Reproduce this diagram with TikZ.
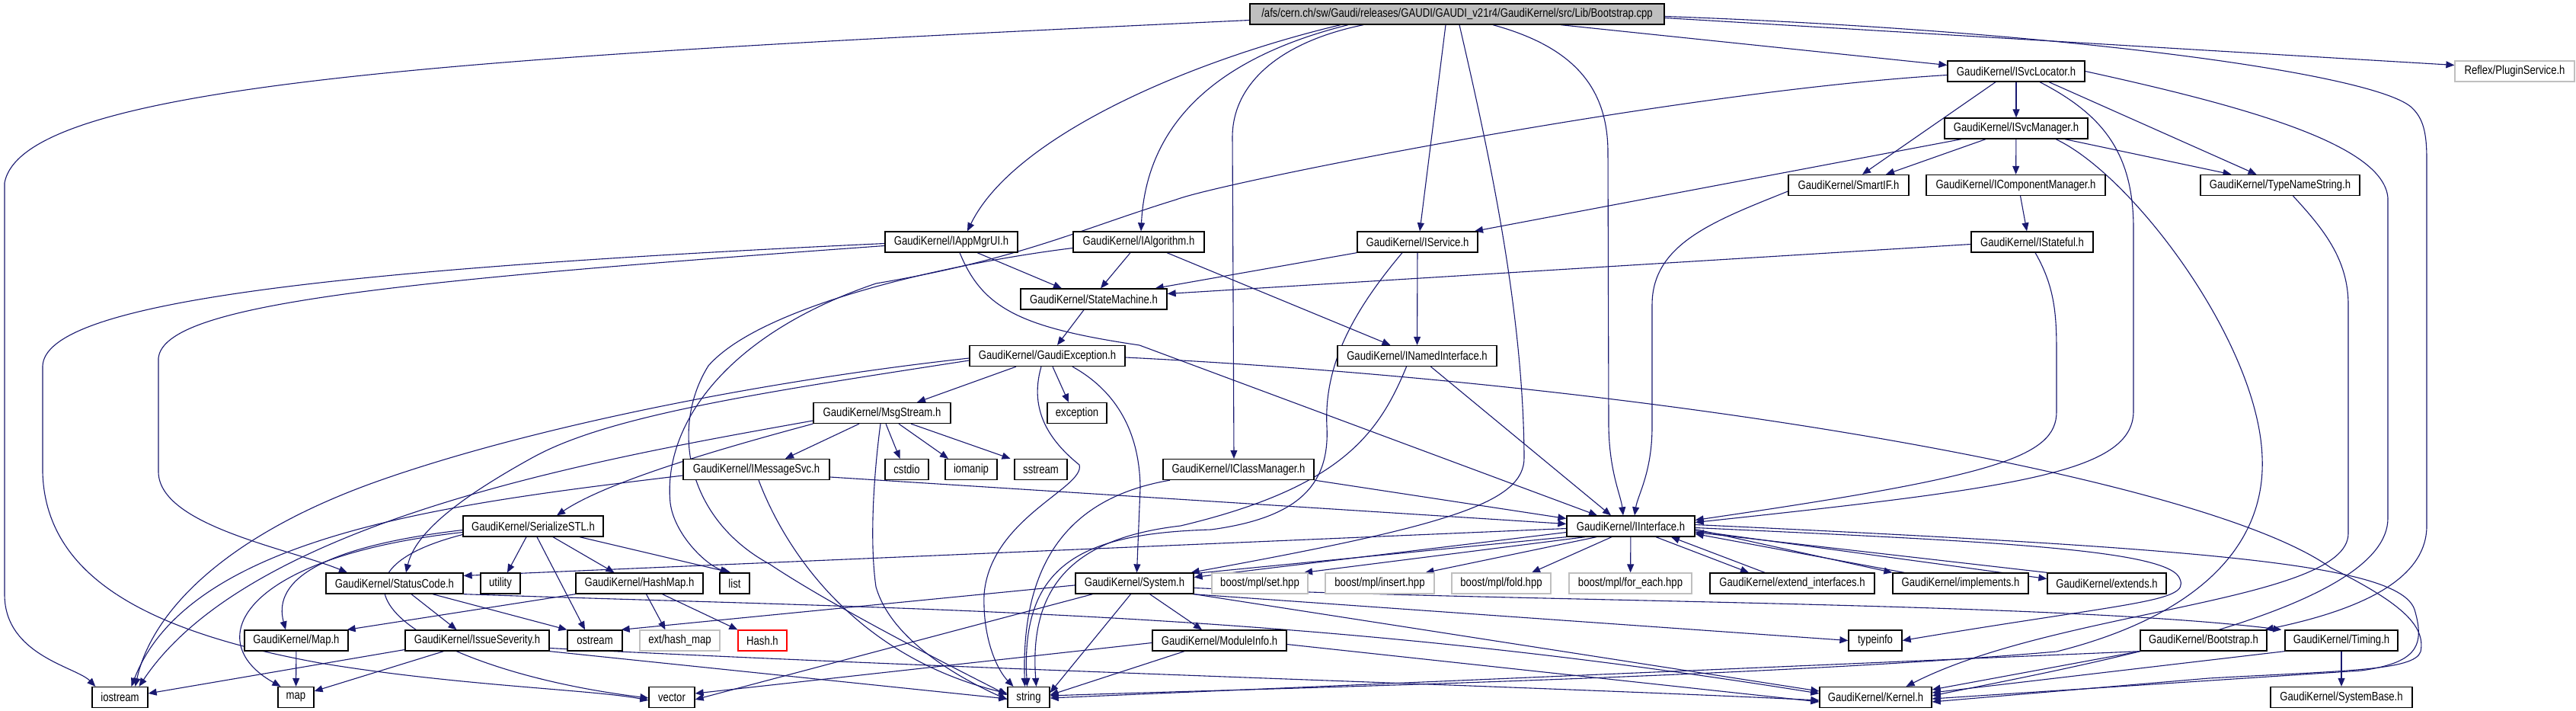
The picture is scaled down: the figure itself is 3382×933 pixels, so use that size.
\documentclass[tikz,border=0pt]{standalone}
\usepackage{fontspec}
\setmainfont{Liberation Sans}[FakeStretch=0.82]
\usetikzlibrary{arrows.meta,positioning,backgrounds}

\definecolor{edgeblue}{HTML}{191970}
\definecolor{boxgray}{HTML}{BFBFBF}

\tikzset{
  hfile/.style={rectangle,draw=black,line width=1.3pt,fill=white,minimum height=27,inner sep=0pt,font=\fontsize{16}{19}\selectfont},
  extfile/.style={hfile,draw=boxgray},
  badfile/.style={hfile,draw=red},
  rootfile/.style={hfile,fill=boxgray},
  dep/.style={draw=edgeblue,line width=1.1pt,-{Triangle[length=11pt,width=9pt]}}
}

\begin{document}
\begin{tikzpicture}[x=1pt,y=-1pt]
\useasboundingbox (0,0) rectangle (3382,933);

% the source file
\node[rootfile,minimum width=544] (cpp) at (1913,18.5) {/afs/cern.ch/sw/Gaudi/releases/GAUDI/GAUDI\_v21r4/GaudiKernel/src/Lib/Bootstrap.cpp};

% service headers
\node[hfile,minimum width=180] (svcloc) at (2647,93.5) {GaudiKernel/ISvcLocator.h};
\node[extfile,minimum width=157] (plugin) at (3301.5,93.5) {Reflex/PluginService.h};
\node[hfile,minimum width=188] (svcmgr) at (2647,168.5) {GaudiKernel/ISvcManager.h};
\node[hfile,minimum width=158] (smartif) at (2427,243) {GaudiKernel/SmartIF.h};
\node[hfile,minimum width=235] (compmgr) at (2646.5,243) {GaudiKernel/IComponentManager.h};
\node[hfile,minimum width=209] (typename) at (2993.5,243) {GaudiKernel/TypeNameString.h};
\node[hfile,minimum width=174] (appmgr) at (1249,317.5) {GaudiKernel/IAppMgrUI.h};
\node[hfile,minimum width=172] (ialg) at (1495,317.5) {GaudiKernel/IAlgorithm.h};
\node[hfile,minimum width=158] (isvc) at (1861,317.5) {GaudiKernel/IService.h};
\node[hfile,minimum width=160] (istateful) at (2668,317.5) {GaudiKernel/IStateful.h};
\node[hfile,minimum width=192] (statemach) at (1436,392.5) {GaudiKernel/StateMachine.h};
\node[hfile,minimum width=204] (gexc) at (1375,467) {GaudiKernel/GaudiException.h};
\node[hfile,minimum width=209] (namedif) at (1860.5,467) {GaudiKernel/INamedInterface.h};

% message stream and friends
\node[hfile,minimum width=180] (msgstream) at (1158,542) {GaudiKernel/MsgStream.h};
\node[hfile,minimum width=78] (exception) at (1414,542) {exception};
\node[hfile,minimum width=192] (imsgsvc) at (993,616) {GaudiKernel/IMessageSvc.h};
\node[hfile,minimum width=57] (cstdio) at (1190.5,616) {cstdio};
\node[hfile,minimum width=68] (iomanip) at (1275,616) {iomanip};
\node[hfile,minimum width=69] (sstream) at (1366.5,616) {sstream};
\node[hfile,minimum width=198] (iclassmgr) at (1626,616) {GaudiKernel/IClassManager.h};
\node[hfile,minimum width=184] (serial) at (700,690.5) {GaudiKernel/SerializeSTL.h};
\node[hfile,minimum width=168] (iinterface) at (2141,690.5) {GaudiKernel/IInterface.h};

% row of small headers
\node[hfile,minimum width=180] (statuscode) at (518,765.5) {GaudiKernel/StatusCode.h};
\node[hfile,minimum width=52] (utility) at (657,765.5) {utility};
\node[hfile,minimum width=167] (hashmap) at (839.5,765.5) {GaudiKernel/HashMap.h};
\node[hfile,minimum width=39] (list) at (964.5,765.5) {list};
\node[hfile,minimum width=155] (system) at (1489.5,765.5) {GaudiKernel/System.h};
\node[extfile,minimum width=126] (mplset) at (1654,765.5) {boost/mpl/set.hpp};
\node[extfile,minimum width=143] (mplinsert) at (1811.5,765.5) {boost/mpl/insert.hpp};
\node[extfile,minimum width=130] (mplfold) at (1971,765.5) {boost/mpl/fold.hpp};
\node[extfile,minimum width=161] (mplforeach) at (2140.5,765.5) {boost/mpl/for\_each.hpp};
\node[hfile,minimum width=216] (extif) at (2353,765.5) {GaudiKernel/extend\_interfaces.h};
\node[hfile,minimum width=178] (implements) at (2574,765.5) {GaudiKernel/implements.h};
\node[hfile,minimum width=156] (extends) at (2766,765.5) {GaudiKernel/extends.h};

\node[hfile,minimum width=136] (mapk) at (389,840.5) {GaudiKernel/Map.h};
\node[hfile,minimum width=189] (issue) at (626.5,840.5) {GaudiKernel/IssueSeverity.h};
\node[hfile,minimum width=72] (ostream) at (781,840.5) {ostream};
\node[extfile,minimum width=105] (exthash) at (892.5,840.5) {ext/hash\_map};
\node[badfile,minimum width=64] (hash) at (1001,840.5) {Hash.h};
\node[hfile,minimum width=176] (modinfo) at (1601,840.5) {GaudiKernel/ModuleInfo.h};
\node[hfile,minimum width=70] (typeinfo) at (2462,840.5) {typeinfo};
\node[hfile,minimum width=166] (bootstrap) at (2893,840.5) {GaudiKernel/Bootstrap.h};
\node[hfile,minimum width=148] (timing) at (3074,840.5) {GaudiKernel/Timing.h};

% bottom row
\node[hfile,minimum width=73] (iostream) at (157.5,915) {iostream};
\node[hfile,minimum width=47] (map) at (388.5,915) {map};
\node[hfile,minimum width=60] (vector) at (882,915) {vector};
\node[hfile,minimum width=55] (string) at (1350.5,915) {string};
\node[hfile,minimum width=147] (kernel) at (2462.5,915) {GaudiKernel/Kernel.h};
\node[hfile,minimum width=186] (sysbase) at (3074,915) {GaudiKernel/SystemBase.h};

\begin{scope}[on background layer]
\fill[white] (0,0) rectangle (3382,933);

% Bootstrap.cpp
\draw[dep] ([yshift=-8pt]cpp.west) .. controls (600,75) and (30,110) .. (6,240) -- (6,780) .. controls (6,860) and (100,875) .. ([xshift=5pt]iostream.north west);
\draw[dep] ([xshift=-153pt]cpp.south) .. controls (1560,80) and (1330,180) .. ([xshift=21pt]appmgr.north);
\draw[dep] ([xshift=-143pt]cpp.south) .. controls (1600,75) and (1505,160) .. ([xshift=3pt]ialg.north);
\draw[dep] ([xshift=-123pt]cpp.south) .. controls (1680,55) and (1618,110) .. (1618,180) -- ([xshift=-6pt]iclassmgr.north);
\draw[dep] ([xshift=-15pt]cpp.south) -- ([xshift=3pt]isvc.north);
\draw[dep] ([xshift=3pt]cpp.south) .. controls (1950,180) and (2000,400) .. (2001,600) .. controls (2002,660) and (1900,690) .. ([xshift=-4pt]system.north east);
\draw[dep] ([xshift=47pt]cpp.south) .. controls (2060,60) and (2111,110) .. (2111,200) -- (2112,560) .. controls (2113,620) and (2128,650) .. ([xshift=-10pt]iinterface.north);
\draw[dep] ([xshift=136pt]cpp.south) -- ([yshift=8pt]svcloc.west);
\draw[dep] ([yshift=-5pt]cpp.east) -- ([yshift=8pt]plugin.west);
\draw[dep] ([yshift=-3pt]cpp.east) .. controls (2700,40) and (3110,95) .. (3165,140) .. controls (3182,155) and (3186,175) .. (3186,210) -- (3186,690) .. controls (3186,760) and (3100,800) .. ([xshift=-3pt]bootstrap.north east);

% ISvcLocator.h
\draw[dep] (svcloc) -- (svcmgr);
\draw[dep] ([xshift=-27pt]svcloc.south) -- ([xshift=18pt]smartif.north);
\draw[dep] ([xshift=43pt]svcloc.south) -- ([xshift=-31pt]typename.north);
\draw[dep] ([xshift=31pt]svcloc.south) .. controls (2760,150) and (2801,200) .. (2801,300) -- (2801,540) .. controls (2800,620) and (2650,640) .. ([yshift=5pt]iinterface.east);
\draw[dep] ([yshift=-5pt]svcloc.west) .. controls (2200,120) and (1600,240) .. (1544,262) .. controls (1420,300) and (1340,340) .. (1150,372) .. controls (950,440) and (870,560) .. (880,660) .. controls (885,700) and (925,740) .. ([xshift=-8pt]list.north);
\draw[dep] (svcloc.east) .. controls (2950,140) and (3130,190) .. (3135,260) -- (3135,680) .. controls (3135,800) and (2750,870) .. ([yshift=2pt]kernel.east);

% ISvcManager.h
\draw[dep] ([xshift=-40pt]svcmgr.south) -- ([xshift=49pt]smartif.north);
\draw[dep] (svcmgr) -- (compmgr);
\draw[dep] ([xshift=64pt]svcmgr.south) -- ([xshift=-64pt]typename.north);
\draw[dep] ([xshift=-72pt]svcmgr.south) -- ([xshift=75pt]isvc.north);
\draw[dep] ([xshift=52pt]svcmgr.south) .. controls (2800,230) and (2965,450) .. (2970,600) .. controls (2975,720) and (2880,810) .. (2700,855) .. controls (2300,890) and (1600,905) .. ([yshift=2pt]string.east);

% SmartIF.h, IComponentManager.h, TypeNameString.h, IStateful.h
\draw[dep] ([yshift=-8pt]smartif.west) .. controls (2250,290) and (2169,320) .. (2169,400) -- (2169,560) .. controls (2169,620) and (2150,650) .. ([xshift=5pt]iinterface.north);
\draw[dep] ([xshift=6pt]compmgr.south) -- ([xshift=-7pt]istateful.north);
\draw[dep] ([xshift=17pt]typename.south) .. controls (3050,300) and (3083,340) .. (3083,400) -- (3083,700) .. controls (3083,790) and (2700,800) .. ([xshift=40pt]kernel.north);
\draw[dep] ([yshift=-3pt]istateful.west) -- ([yshift=7pt]statemach.east);
\draw[dep] ([xshift=4pt]istateful.south) .. controls (2700,380) and (2700,420) .. (2700,470) -- (2700,540) .. controls (2700,600) and (2620,625) .. ([yshift=8pt]iinterface.east);

% IAppMgrUI.h
\draw[dep] ([xshift=34pt]appmgr.south) -- ([xshift=-42pt]statemach.north);
\draw[dep] ([xshift=11pt]appmgr.south) .. controls (1290,405) and (1340,430) .. (1496,453) -- ([xshift=-44pt]iinterface.north);
\draw[dep] ([yshift=-5pt]appmgr.west) .. controls (500,370) and (215,400) .. (208,470) -- (208,620) .. controls (210,690) and (380,720) .. ([xshift=-62pt]statuscode.north);
\draw[dep] ([yshift=-2pt]appmgr.west) .. controls (400,355) and (60,400) .. (56,480) -- (56,620) .. controls (60,760) and (200,830) .. (420,870) .. controls (600,900) and (780,905) .. ([yshift=-4pt]vector.west);

% IAlgorithm.h, IService.h
\draw[dep] ([xshift=-11pt]ialg.south) -- ([xshift=9pt]statemach.north);
\draw[dep] ([xshift=37pt]ialg.south) -- ([xshift=-35pt]namedif.north);
\draw[dep] ([yshift=-8pt]ialg.west) .. controls (1250,345) and (1000,400) .. (930,480) .. controls (880,560) and (900,680) .. (1010,740) .. controls (1100,800) and (1260,880) .. ([yshift=3pt]string.west);
\draw[dep] (isvc.south west) -- ([xshift=-16pt]statemach.north east);
\draw[dep] (isvc) -- (namedif);
\draw[dep] ([xshift=-20pt]isvc.south) .. controls (1775,410) and (1738,480) .. (1742,560) .. controls (1746,640) and (1700,680) .. (1590,695) .. controls (1420,700) and (1340,740) .. ([xshift=-2pt]string.north);

% StateMachine.h, GaudiException.h
\draw[dep] ([xshift=-13pt]statemach.south) -- ([xshift=13pt]gexc.north);
\draw[dep] ([xshift=-41pt]gexc.south) -- ([xshift=46pt]msgstream.north);
\draw[dep] ([xshift=7pt]gexc.south) -- ([xshift=-11pt]exception.north);
\draw[dep] ([xshift=33pt]gexc.south) .. controls (1460,510) and (1496,560) .. (1497,640) -- ([xshift=3pt]system.north);
\draw[dep] ([xshift=-8pt]gexc.south) .. controls (1350,540) and (1380,580) .. (1417,610) .. controls (1425,640) and (1300,680) .. (1292,780) .. controls (1290,840) and (1310,880) .. ([xshift=-20pt]string.north);
\draw[dep] ([yshift=-3pt]gexc.west) .. controls (1000,500) and (700,560) .. (500,630) .. controls (300,700) and (200,800) .. ([xshift=20pt]iostream.north);
\draw[dep] ([yshift=-6pt]gexc.west) .. controls (1000,515) and (800,545) .. (700,600) .. controls (600,655) and (545,700) .. ([xshift=15pt]statuscode.north);
\draw[dep] ([yshift=-2pt]gexc.east) .. controls (2200,505) and (2900,630) .. (3060,745) .. controls (3150,790) and (3185,820) .. (3178,855) .. controls (3170,880) and (3080,880) .. (2900,890) -- ([yshift=-6pt]kernel.east);

% MsgStream.h
\draw[dep] ([xshift=-30pt]msgstream.south) -- ([xshift=38pt]imsgsvc.north);
\draw[dep] ([xshift=5pt]msgstream.south) -- ([xshift=-9pt]cstdio.north);
\draw[dep] ([xshift=22pt]msgstream.south) -- ([xshift=-30pt]iomanip.north);
\draw[dep] ([xshift=38pt]msgstream.south) -- ([xshift=-40pt]sstream.north);
\draw[dep] ([xshift=-2pt]msgstream.south) .. controls (1150,600) and (1140,700) .. (1150,770) .. controls (1170,840) and (1260,890) .. ([yshift=-3pt]string.west);
\draw[dep] (msgstream.south west) .. controls (960,585) and (800,630) .. ([xshift=31pt]serial.north);
\draw[dep] ([yshift=-10pt]msgstream.west) .. controls (800,600) and (330,680) .. ([xshift=25pt]iostream.north);

% IMessageSvc.h, IClassManager.h, INamedInterface.h
\draw[dep] ([yshift=-10pt]imsgsvc.east) -- ([yshift=3pt]iinterface.west);
\draw[dep] ([xshift=3pt]imsgsvc.south) .. controls (1030,720) and (1120,860) .. ([yshift=5pt]string.west);
\draw[dep] ([yshift=-8pt]imsgsvc.west) .. controls (600,660) and (250,700) .. ([xshift=15pt]iostream.north);
\draw[dep] (iclassmgr.south east) -- ([yshift=10pt]iinterface.west);
\draw[dep] ([xshift=-90pt]iclassmgr.south) .. controls (1420,650) and (1340,720) .. ([xshift=-5pt]string.north);
\draw[dep] ([xshift=18pt]namedif.south) -- ([xshift=-26pt]iinterface.north);
\draw[dep] ([xshift=-14pt]namedif.south) .. controls (1810,570) and (1760,640) .. (1550,690) .. controls (1420,705) and (1350,760) .. ([xshift=10pt]string.north);

% SerializeSTL.h
\draw[dep] ([xshift=-9pt]serial.south) -- ([xshift=9pt]utility.north);
\draw[dep] ([xshift=61pt]serial.south) -- ([xshift=-5pt]list.north);
\draw[dep] ([xshift=26pt]serial.south) -- ([xshift=-33pt]hashmap.north);
\draw[dep] ([xshift=5pt]serial.south) -- ([xshift=-13pt]ostream.north);
\draw[dep] ([yshift=-5pt]serial.west) .. controls (400,720) and (360,770) .. ([xshift=-14pt]mapk.north);
\draw[dep] ([yshift=-8pt]serial.west) .. controls (320,730) and (260,840) .. ([xshift=-20pt]map.north);
\draw[dep] ([yshift=-11pt]serial.west) .. controls (380,760) and (560,880) .. ([yshift=-1pt]vector.west);

% IInterface.h
\draw[dep] ([yshift=-8pt]iinterface.west) -- ([yshift=8pt]system.east);
\draw[dep] ([xshift=-60pt]iinterface.south) -- ([xshift=58pt]mplset.north);
\draw[dep] ([xshift=-45pt]iinterface.south) -- ([xshift=60pt]mplinsert.north);
\draw[dep] ([xshift=-25pt]iinterface.south) -- ([xshift=40pt]mplfold.north);
\draw[dep] (iinterface) -- (mplforeach);
\draw[dep] ([xshift=33pt]iinterface.south) -- ([xshift=-57pt]extif.north);
\draw[dep] ([xshift=-36pt]extif.north) -- ([xshift=53pt]iinterface.south);
\draw[dep] ([yshift=-4pt]iinterface.east) -- (implements.north west);
\draw[dep] ([xshift=-74pt]implements.north) -- ([yshift=-10pt]iinterface.east);
\draw[dep] ([yshift=-6pt]iinterface.east) -- ([yshift=6pt]extends.west);
\draw[dep] (extends.north west) -- ([yshift=-8pt]iinterface.east);
\draw[dep] ([yshift=-3pt]iinterface.west) -- ([yshift=10pt]statuscode.east);
\draw[dep] (iinterface.south west) -- ([xshift=-2pt]ostream.north east);
\draw[dep] ([yshift=-2pt]iinterface.east) .. controls (2600,710) and (2850,720) .. (2862,760) .. controls (2875,790) and (2800,790) .. (typeinfo.east);
\draw[dep] ([yshift=2pt]iinterface.east) .. controls (2900,720) and (3150,740) .. (3170,800) .. controls (3185,850) and (3170,870) .. (3100,880) -- ([yshift=-2pt]kernel.east);

% StatusCode.h, HashMap.h, Map.h, IssueSeverity.h
\draw[dep] ([xshift=22pt]statuscode.south) -- ([xshift=-27pt]issue.north);
\draw[dep] ([xshift=50pt]statuscode.south) -- (ostream.north west);
\draw[dep] (statuscode.south east) .. controls (1200,800) and (1700,800) .. ([yshift=5pt]kernel.west);
\draw[dep] (hashmap.south west) -- ([xshift=-2pt]mapk.north east);
\draw[dep] ([xshift=9pt]hashmap.south) -- ([xshift=-19pt]exthash.north);
\draw[dep] ([xshift=30pt]hashmap.south) -- (hash.north west);
\draw[dep] (mapk) -- (map);
\draw[dep] ([yshift=-12pt]issue.west) -- ([yshift=5pt]iostream.east);
\draw[dep] ([xshift=-44pt]issue.south) -- ([yshift=8pt]map.east);
\draw[dep] (issue.south east) -- ([yshift=-2pt]string.west);
\draw[dep] ([yshift=-10pt]issue.east) .. controls (1300,880) and (2000,900) .. ([yshift=-4pt]kernel.west);

% System.h, ModuleInfo.h, Bootstrap.h, Timing.h
\draw[dep] (system.south east) -- ([yshift=8pt]kernel.west);
\draw[dep] ([yshift=-6pt]system.east) .. controls (2000,790) and (2700,790) .. ([xshift=-4pt]timing.north west);
\draw[dep] ([xshift=20pt]system.south) -- ([xshift=-23pt]modinfo.north);
\draw[dep] ([xshift=-5pt]system.south) -- ([yshift=6pt]string.east);
\draw[dep] ([xshift=-55pt]system.south) -- ([yshift=-3pt]vector.east);
\draw[dep] ([xshift=-2pt]system.south east) -- (typeinfo.west);
\draw[dep] ([yshift=-5pt]modinfo.east) -- ([yshift=-6pt]kernel.west);
\draw[dep] ([xshift=-46pt]modinfo.south) -- ([yshift=3pt]string.east);
\draw[dep] ([yshift=-3pt]modinfo.west) -- ([yshift=5pt]vector.east);
\draw[dep] (bootstrap.south west) -- ([yshift=10pt]kernel.east);
\draw[dep] (bootstrap.south west) -- ([yshift=-1pt]string.east);
\draw[dep] (timing.south west) -- ([yshift=6pt]kernel.east);
\draw[dep] (timing) -- (sysbase);
\end{scope}
\end{tikzpicture}
\end{document}
